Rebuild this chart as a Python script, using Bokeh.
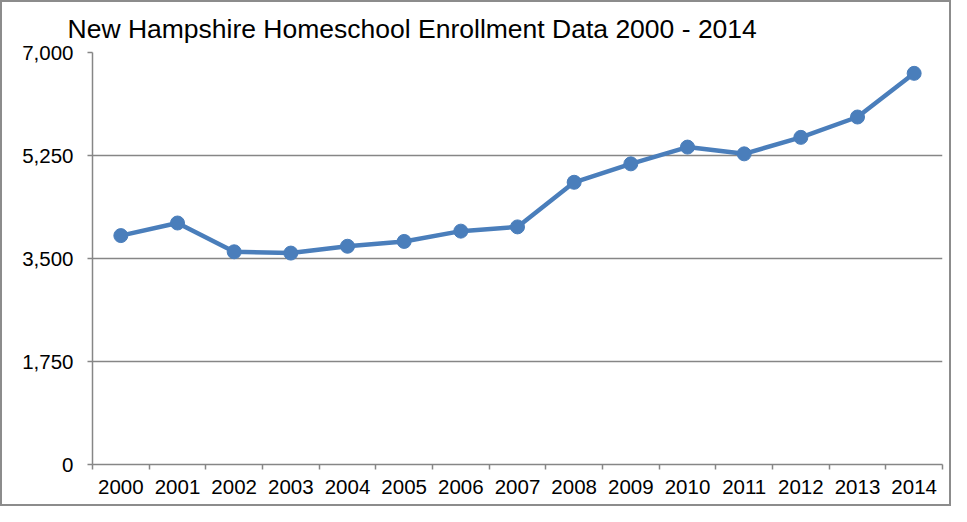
import numpy as np
from bokeh.plotting import figure
from bokeh.layouts import column
from bokeh.models import FixedTicker, NumeralTickFormatter, Range1d, ColumnDataSource
from bokeh.embed import file_html
from bokeh.resources import INLINE

title_text = "New Hampshire Homeschool Enrollment Data 2000 - 2014"
years = ["2000", "2001", "2002", "2003", "2004", "2005", "2006", "2007",
         "2008", "2009", "2010", "2011", "2012", "2013", "2014"]
enrollment = [3889, 4103, 3614, 3592, 3708, 3790, 3965, 4037,
              4795, 5108, 5393, 5278, 5558, 5904, 6646]
y_ticks = [0, 1750, 3500, 5250, 7000]

BLUE = "#4A7EBB"
GRAY = "#868686"
FONT = "Liberation Sans"
W, H = 947, 502

xpos = np.arange(len(years)) + 0.5
src = ColumnDataSource(dict(x=xpos, y=enrollment, year=years))

p = figure(width=W, height=H, output_backend="svg", toolbar_location=None,
           x_range=Range1d(0, len(years)), y_range=Range1d(0, 7000),
           min_border_left=90, min_border_right=7, min_border_top=50,
           min_border_bottom=40)

p.title.text = title_text
p.title.text_font = FONT
p.title.text_font_size = "26.5px"
p.title.text_font_style = "normal"
p.title.text_color = "#000000"
p.title.align = "left"
p.title.offset = -25
p.title.standoff = 18

p.line("x", "y", source=src, line_color=BLUE, line_width=4.5)
p.scatter("x", "y", source=src, size=14, fill_color=BLUE, line_color=BLUE)

# x axis: labels at category centres, tick marks between categories
xa = p.xaxis[0]
xa.ticker = FixedTicker(ticks=list(xpos), minor_ticks=list(range(len(years) + 1)))
xa.major_label_overrides = {float(x): y for x, y in zip(xpos, years)}
xa.major_tick_out = 0
xa.major_tick_in = 0
xa.minor_tick_out = 5
xa.minor_tick_in = 0
xa.minor_tick_line_color = GRAY
xa.minor_tick_line_width = 1.5

ya = p.yaxis[0]
ya.ticker = FixedTicker(ticks=y_ticks)
ya.formatter = NumeralTickFormatter(format="0,0")
ya.major_tick_out = 5
ya.major_tick_in = 0
ya.minor_tick_out = 0
ya.minor_tick_in = 0

for ax in (xa, ya):
    ax.axis_line_color = GRAY
    ax.axis_line_width = 1.5
    ax.major_tick_line_color = GRAY
    ax.major_tick_line_width = 1.5
    ax.major_label_text_font = FONT
    ax.major_label_text_font_size = "20.5px"
    ax.major_label_text_color = "#000000"
xa.major_label_standoff = 10
ya.major_label_standoff = 14

p.xgrid.visible = False
p.ygrid.ticker = FixedTicker(ticks=y_ticks)
p.ygrid.grid_line_color = GRAY
p.ygrid.grid_line_width = 1.5
p.outline_line_color = None
p.background_fill_color = "white"
p.border_fill_color = "white"

layout = column(p, styles={"border": "2px solid #8c8c8c"})

open("out.html", "w").write(file_html(layout, INLINE))
